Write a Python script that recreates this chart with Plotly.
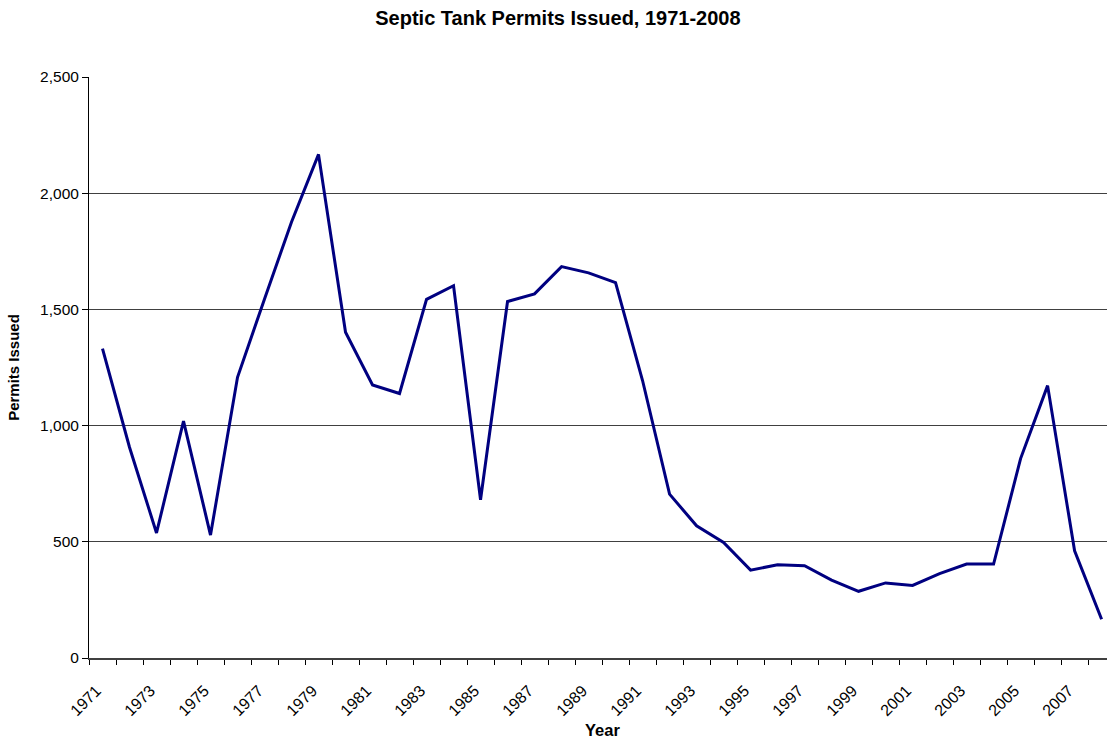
import plotly.graph_objects as go

years = list(range(1971, 2009))
permits = [1331, 907, 538, 1019, 529, 1208, 1545, 1876, 2167, 1402,
           1175, 1138, 1543, 1602, 681, 1534, 1567, 1684, 1657, 1615,
           1194, 705, 569, 497, 378, 401, 397, 335, 287, 323,
           312, 363, 404, 404, 858, 1172, 461, 167]
label_years = years[::2]
y_ticks = [0, 500, 1000, 1500, 2000, 2500]

font_family = "Liberation Sans, Arial, sans-serif"

fig = go.Figure()
fig.add_trace(go.Scatter(
    x=years, y=permits, mode="lines",
    line=dict(color="#000080", width=3),
    showlegend=False, hoverinfo="x+y",
))

boundaries = [y - 0.5 for y in years] + [years[-1] + 0.5]

fig.update_layout(
    width=1107, height=738,
    margin=dict(l=89, r=0, t=77, b=80),
    paper_bgcolor="white", plot_bgcolor="white",
    font=dict(family=font_family, color="#000000", size=14),
    title=dict(text="<b>Septic Tank Permits Issued, 1971-2008</b>",
               x=0.504, xanchor="center", y=0.975, yanchor="middle",
               font=dict(size=20, family=font_family, color="#000000")),
    xaxis=dict(
        range=[1970.5, 2008.2],
        tickmode="array", tickvals=label_years,
        ticktext=[str(y) for y in label_years],
        tickangle=-45, ticks="outside", ticklen=0,
        ticklabelstandoff=15, ticklabelshift=-6,
        tickfont=dict(size=16),
        showgrid=False, zeroline=False,
        showline=True, linecolor="#404040", linewidth=2,
        minor=dict(tickmode="array", tickvals=boundaries, ticks="outside",
                   ticklen=5, tickcolor="#000000", tickwidth=1, showgrid=False),
        fixedrange=True,
    ),
    yaxis=dict(
        range=[0, 2500],
        tickmode="array", tickvals=y_ticks,
        tickformat=",",
        ticks="outside", ticklen=6, tickcolor="#000000",
        tickfont=dict(size=15.5),
        showgrid=True, gridcolor="#404040", gridwidth=1,
        zeroline=False,
        showline=True, linecolor="#000000", linewidth=1,
        title=dict(text="<b>Permits Issued</b>", font=dict(size=15), standoff=16),
        fixedrange=True,
    ),
    annotations=[dict(
        text="<b>Year</b>", xref="paper", yref="paper",
        x=0.504, y=-0.124, xanchor="center", yanchor="middle",
        showarrow=False, font=dict(size=16.5, family=font_family, color="#000000"),
    )],
)

fig.write_html("out.html")
